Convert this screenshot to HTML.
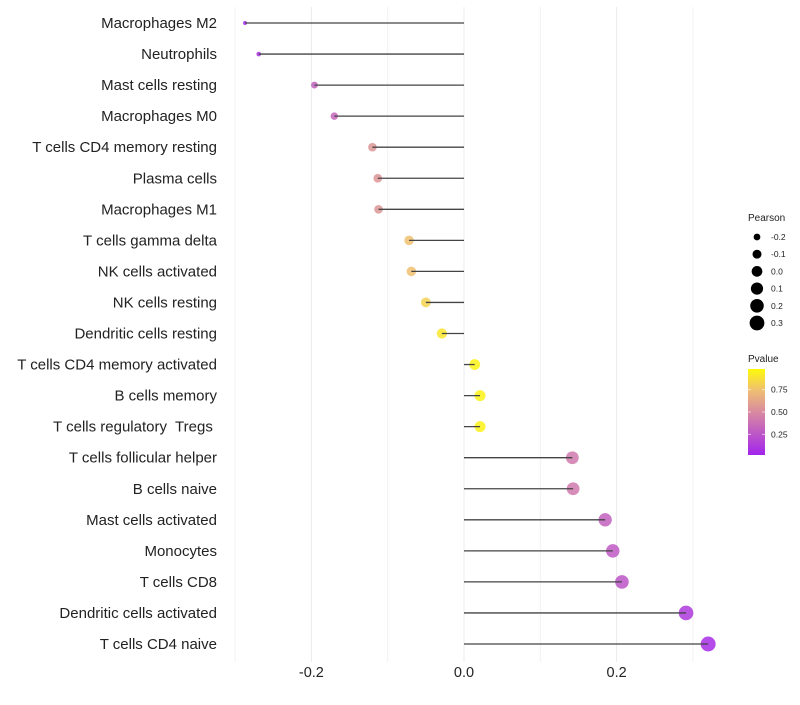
<!DOCTYPE html>
<html><head><meta charset="utf-8"><style>
body{margin:0;background:#fff;font-family:"Liberation Sans",sans-serif}
text{white-space:pre}
</style></head><body>
<svg id="c" width="800" height="700" xmlns="http://www.w3.org/2000/svg" xml:space="preserve"></svg>
<script>
const categories=["Macrophages M2","Neutrophils","Mast cells resting","Macrophages M0","T cells CD4 memory resting","Plasma cells","Macrophages M1","T cells gamma delta","NK cells activated","NK cells resting","Dendritic cells resting","T cells CD4 memory activated","B cells memory","T cells regulatory  Tregs ","T cells follicular helper","B cells naive","Mast cells activated","Monocytes","T cells CD8","Dendritic cells activated","T cells CD4 naive"];
const pearson=[-0.287,-0.269,-0.196,-0.170,-0.120,-0.113,-0.112,-0.072,-0.069,-0.050,-0.029,0.014,0.021,0.021,0.142,0.143,0.185,0.195,0.207,0.291,0.320];
const pvalue=[0.04,0.08,0.3,0.33,0.55,0.55,0.55,0.75,0.75,0.82,0.9,0.95,0.95,0.95,0.42,0.42,0.3,0.27,0.25,0.12,0.06];
const xTicks=[-0.2,0,0.2];
const xTickLabels=["-0.2","0.0","0.2"];
const minorTicks=[-0.3,-0.1,0.1,0.3];
const sizeLegend=[-0.2,-0.1,0.0,0.1,0.2,0.3];
const pLegend=[0.25,0.5,0.75];

const NS="http://www.w3.org/2000/svg";
const svg=document.getElementById('c');
const x=v=>464+v*763;
const y=i=>23+i*31.05;
const r=v=>Math.sqrt(Math.max(2,28.6+85.7*v));
function col(p){
  const stops=[[0,[160,32,240]],[0.5,[216,138,160]],[0.75,[240,192,112]],[1,[255,255,0]]];
  let k=0;while(k<stops.length-2&&p>stops[k+1][0])k++;
  const a=stops[k],b=stops[k+1];
  const t=Math.min(1,Math.max(0,(p-a[0])/(b[0]-a[0])));
  const c=a[1].map((v,j)=>Math.round(v+(b[1][j]-v)*t));
  return `rgb(${c.join(',')})`;
}
function mk(tag,at,parent){const e=document.createElementNS(NS,tag);for(const k in at)e.setAttribute(k,at[k]);(parent||svg).appendChild(e);return e;}
const plotTop=7,plotBot=662;
minorTicks.forEach(v=>{const l=mk('line',{x1:x(v),x2:x(v),y1:plotTop,y2:plotBot,stroke:'#f2f2f2','stroke-width':1});

});
xTicks.forEach((v,i)=>{const l=mk('line',{x1:x(v),x2:x(v),y1:plotTop,y2:plotBot,stroke:'#ebebeb','stroke-width':1});


const t=mk('text',{x:x(v),y:677,'text-anchor':'middle','font-size':14.5,fill:'#222'});t.textContent=xTickLabels[i];

});
categories.forEach((c,i)=>{
  const t=mk('text',{x:217,y:y(i)+5,'text-anchor':'end','font-size':15,fill:'#222'});t.textContent=c;
  
  
  const p=mk('circle',{cx:x(pearson[i]),cy:y(i),r:r(pearson[i]),fill:col(pvalue[i]),'fill-opacity':0.85});
  
  
  const l=mk('line',{x1:x(0),x2:x(pearson[i]),y1:y(i),y2:y(i),stroke:'#444','stroke-width':1.3});
  
  
});
const lt=mk('text',{x:748,y:221,'font-size':10,fill:'#222'});lt.textContent='Pearson';


sizeLegend.forEach((v,i)=>{const cy=237+i*17.2;
 const c=mk('circle',{cx:757,cy:cy,r:r(v),fill:'#000'});
 
 
 const t=mk('text',{x:771,y:cy+3,'font-size':8.5,fill:'#222'});t.textContent=v.toFixed(1);
 
 });
const pt=mk('text',{x:748,y:362,'font-size':10,fill:'#222'});pt.textContent='Pvalue';


const defs=mk('defs',{});const g=mk('linearGradient',{id:'pg',x1:0,y1:1,x2:0,y2:0},defs);
[0,0.125,0.25,0.375,0.5,0.625,0.75,0.875,1].forEach(o=>mk('stop',{offset:o,'stop-color':col(0.02+o*0.96)},g));
const bar=mk('rect',{x:748,y:369,width:17,height:86,fill:'url(#pg)'});


const py=p=>455-(p-0.02)/0.96*86;
pLegend.forEach(p=>{mk('line',{x1:748,x2:751,y1:py(p),y2:py(p),stroke:'#fff','stroke-opacity':0.6});mk('line',{x1:762,x2:765,y1:py(p),y2:py(p),stroke:'#fff','stroke-opacity':0.6});
 const t=mk('text',{x:771,y:py(p)+3,'font-size':8.5,fill:'#222'});t.textContent=p.toFixed(2);
 
 });
</script>
</body></html>
